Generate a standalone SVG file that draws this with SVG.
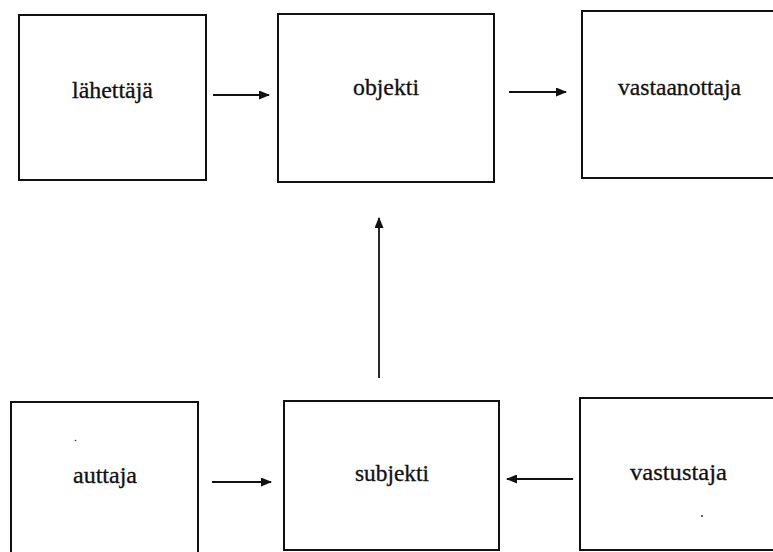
<svg xmlns="http://www.w3.org/2000/svg" width="773" height="552" viewBox="0 0 773 552">
<defs>
<style>
.box{fill:#fff;stroke:#111;stroke-width:2}
.lbl{font-size:23px;fill:#111;stroke:#111;stroke-width:0.3;text-anchor:middle}
.con{stroke:#111;stroke-width:1.8;fill:none}
</style>
<marker id="ah" markerWidth="11" markerHeight="9" refX="10" refY="4.5" orient="auto" markerUnits="userSpaceOnUse">
<path d="M0,0 L11,4.5 L0,9 Z" fill="#111"/>
</marker>
</defs>
<rect width="773" height="552" fill="#fff"/>
<g font-family="Liberation Serif, Times New Roman, DejaVu Serif, serif">
<g id="lahettaja">
<rect class="box" x="19" y="15" width="187" height="165"/>
<text class="lbl" x="112.5" y="98" textLength="81" lengthAdjust="spacingAndGlyphs">lähettäjä</text>
</g>
<g id="objekti">
<rect class="box" x="278" y="14" width="216" height="168"/>
<text class="lbl" x="386" y="95" textLength="66" lengthAdjust="spacingAndGlyphs">objekti</text>
</g>
<g id="vastaanottaja">
<rect class="box" x="582" y="11" width="200" height="167"/>
<text class="lbl" x="679.5" y="95" textLength="123" lengthAdjust="spacingAndGlyphs">vastaanottaja</text>
</g>
<g id="auttaja">
<rect class="box" x="11" y="402" width="187" height="160"/>
<text class="lbl" x="105" y="483" textLength="64" lengthAdjust="spacingAndGlyphs">auttaja</text>
<circle cx="75.5" cy="440.5" r="0.8" fill="#333"/>
</g>
<g id="subjekti">
<rect class="box" x="284" y="401" width="215" height="149"/>
<text class="lbl" x="392" y="481" textLength="74" lengthAdjust="spacingAndGlyphs">subjekti</text>
</g>
<g id="vastustaja">
<rect class="box" x="580" y="398" width="200" height="152"/>
<text class="lbl" x="678.5" y="480" textLength="97" lengthAdjust="spacingAndGlyphs">vastustaja</text>
<circle cx="702" cy="516" r="1" fill="#333"/>
</g>
</g>
<g id="connectors">
<line class="con" x1="213" y1="95" x2="269" y2="95" marker-end="url(#ah)"/>
<line class="con" x1="509" y1="92" x2="566" y2="92" marker-end="url(#ah)"/>
<line class="con" x1="212" y1="482" x2="271" y2="482" marker-end="url(#ah)"/>
<line class="con" x1="573" y1="479" x2="507" y2="479" marker-end="url(#ah)"/>
<line class="con" x1="379" y1="378" x2="379" y2="218" marker-end="url(#ah)"/>
</g>
</svg>
